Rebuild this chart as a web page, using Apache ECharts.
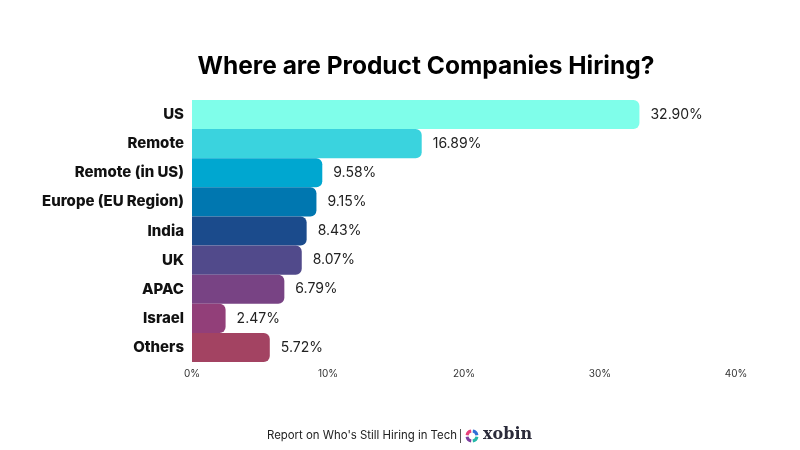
<!DOCTYPE html>
<html>
<head>
<meta charset="utf-8">
<script src="https://cdn.jsdelivr.net/npm/echarts@6/dist/echarts.min.js"></script>
<style>html,body{margin:0;padding:0;background:#fff;}#c{width:800px;height:450px;}</style>
</head>
<body>
<div id="c"></div>
<script>
const categories = ["US", "Remote", "Remote (in US)", "Europe (EU Region)", "India", "UK", "APAC", "Israel", "Others"];
const values = [32.90, 16.89, 9.58, 9.15, 8.43, 8.07, 6.79, 2.47, 5.72];
const barColors = ["#7ffeea", "#3ad3de", "#00a7d0", "#0077b0", "#1b4b8c", "#514a8b", "#784384", "#923f79", "#a34362"];
const xTicks = [0, 10, 20, 30, 40];

const chart = echarts.init(document.getElementById('c'), null, {renderer: 'canvas'});
const font = 'Inter, "Noto Sans", sans-serif';
chart.setOption({
  backgroundColor: '#fff',
  animation: false,
  title: {
    text: 'Where are Product Companies Hiring?',
    left: 421, top: 49, textAlign: 'center',
    textStyle: {fontFamily: font, fontSize: 24.5, fontWeight: 'bold', color: '#000'}
  },
  grid: {left: 192, right: 64, top: 100, bottom: 88, containLabel: false},
  xAxis: {
    type: 'value', min: xTicks[0], max: xTicks[xTicks.length - 1], interval: 10,
    axisLine: {show: false}, axisTick: {show: false}, splitLine: {show: false},
    axisLabel: {formatter: v => v + '%', fontFamily: font, fontSize: 10, color: '#333', margin: 7}
  },
  yAxis: {
    type: 'category', data: categories, inverse: true,
    axisLine: {show: false}, axisTick: {show: false},
    axisLabel: {fontFamily: font, fontSize: 15, fontWeight: 800, color: '#111', margin: 8, padding: [2, 0, 0, 0]}
  },
  series: [{
    type: 'bar',
    data: values.map((v, i) => ({value: v, itemStyle: {color: barColors[i]}})),
    barCategoryGap: '0%',
    itemStyle: {borderRadius: [0, 6, 6, 0]},
    label: {
      show: true, position: 'right', distance: 11,
      formatter: p => p.value.toFixed(2) + '%',
      fontFamily: font, fontSize: 14, color: '#222'
    }
  }],
  graphic: [
    {type: 'text', left: 267, top: 430, style: {text: "Report on Who's Still Hiring in Tech", font: '11.4px ' + font, fill: '#222'}},
    {type: 'rect', shape: {x: 460, y: 429, width: 1, height: 14}, style: {fill: '#555'}},
    {type: 'arc', shape: {cx: 472, cy: 436, r: 5, startAngle: Math.PI * 1.05, endAngle: Math.PI * 1.45}, style: {stroke: '#e8417a', lineWidth: 3, fill: null}},
    {type: 'arc', shape: {cx: 472, cy: 436, r: 5, startAngle: Math.PI * 1.55, endAngle: Math.PI * 1.95}, style: {stroke: '#2f6fd6', lineWidth: 3, fill: null}},
    {type: 'arc', shape: {cx: 472, cy: 436, r: 5, startAngle: Math.PI * 0.05, endAngle: Math.PI * 0.45}, style: {stroke: '#25b8a8', lineWidth: 3, fill: null}},
    {type: 'arc', shape: {cx: 472, cy: 436, r: 5, startAngle: Math.PI * 0.55, endAngle: Math.PI * 0.95}, style: {stroke: '#7d3fa0', lineWidth: 3, fill: null}},
    {type: 'text', left: 483, top: 427, style: {text: 'xobin', font: 'bold 16px "DejaVu Serif", serif', fill: '#2b2b3a'}}
  ]
});
</script>
</body>
</html>
